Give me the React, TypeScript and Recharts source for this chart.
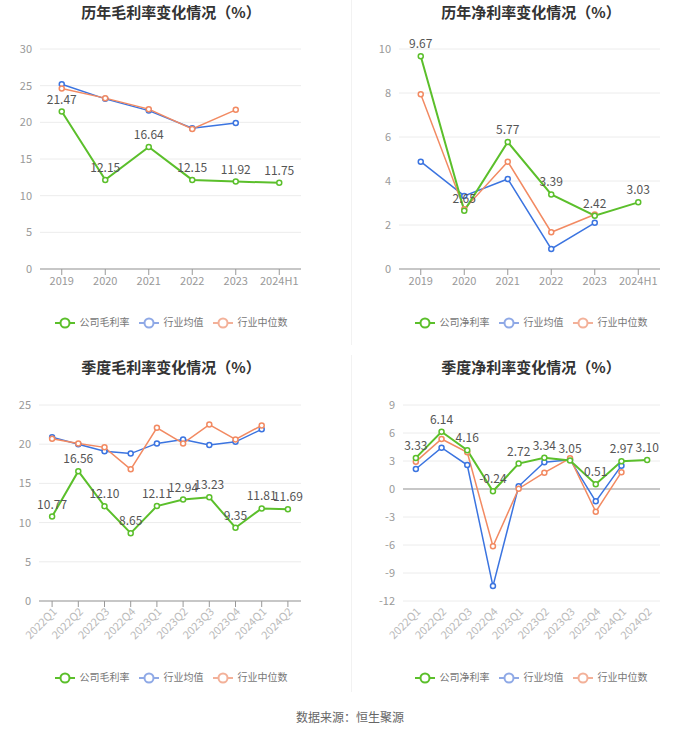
import React from "react"
import { CartesianGrid, LabelList, Line, LineChart, ReferenceLine, XAxis, YAxis } from "recharts"

const years = ["2019", "2020", "2021", "2022", "2023", "2024H1"]
const grossCompany = [21.47, 12.15, 16.64, 12.15, 11.92, 11.75]
const grossAvg = [25.2, 23.2, 21.6, 19.2, 19.9, null]
const grossMedian = [24.6, 23.3, 21.8, 19.1, 21.7, null]

const netCompany = [9.67, 2.65, 5.77, 3.39, 2.42, 3.03]
const netAvg = [4.88, 3.32, 4.09, 0.91, 2.1, null]
const netMedian = [7.94, 2.72, 4.88, 1.67, 2.48, null]

const quarters = ["2022Q1", "2022Q2", "2022Q3", "2022Q4", "2023Q1", "2023Q2", "2023Q3", "2023Q4", "2024Q1", "2024Q2"]
const qGrossCompany = [10.77, 16.56, 12.1, 8.65, 12.11, 12.94, 13.23, 9.35, 11.81, 11.69]
const qGrossAvg = [20.9, 20.0, 19.1, 18.8, 20.1, 20.6, 19.9, 20.3, 21.9, null]
const qGrossMedian = [20.7, 20.1, 19.6, 16.8, 22.1, 20.1, 22.5, 20.6, 22.4, null]

const qNetCompany = [3.33, 6.14, 4.16, -0.24, 2.72, 3.34, 3.05, 0.51, 2.97, 3.1]
const qNetAvg = [2.14, 4.43, 2.57, -10.4, 0.29, 2.86, 3.14, -1.32, 2.5, null]
const qNetMedian = [2.93, 5.36, 3.93, -6.14, 0.03, 1.75, 3.29, -2.43, 1.8, null]

const GREEN = "#5bbf2b"
const BLUE = "#3b74e0"
const ORANGE = "#f28a62"
const FONT = '"Noto Sans CJK SC", "Noto Sans", sans-serif'

type PanelProps = {
    left: number
    top: number
    title: string
    companyName: string
    categories: string[]
    company: number[]
    avg: (number | null)[]
    median: (number | null)[]
    ticks: number[]
    plotLeft: number
    plotRight: number
    quarterly?: boolean
    legendCenter: number
}

function LegendIcon({ color }: { color: string }) {
    return (
        <svg width={20} height={12} style={{ verticalAlign: "middle" }}>
            <line x1={0} y1={6} x2={20} y2={6} stroke={color} strokeWidth={2} />
            <circle cx={10} cy={6} r={4.5} fill="#fff" stroke={color} strokeWidth={2} />
        </svg>
    )
}

function Panel(p: PanelProps) {
    const data = p.categories.map((c, i) => ({
        name: c,
        company: p.company[i],
        avg: p.avg[i],
        median: p.median[i],
    }))
    const dot = (color: string) => ({ r: 2.5, fill: "#fff", stroke: color, strokeWidth: 1.5 })
    const chartTop = p.quarterly ? 35 : 30
    const marginTop = p.quarterly ? 15 : 19
    const xHeight = p.quarterly ? 50 : 25
    const marginBottom = p.quarterly ? 9 : 6
    const halfBand = (p.plotRight - p.plotLeft) / p.categories.length / 2
    const negative = p.ticks[0] < 0
    return (
        <div style={{ position: "absolute", left: p.left, top: p.top, width: 350, height: 345 }}>
            <div style={{ position: "absolute", left: 0, top: 0, width: p.legendCenter * 2, height: 24, lineHeight: "24px", textAlign: "center", fontSize: 15, fontWeight: "bold", color: "#333" }}>
                {p.title}
            </div>
            <div style={{ position: "absolute", left: 0, top: chartTop }}>
                <LineChart width={350} height={270} data={data} margin={{ top: marginTop, right: 350 - p.plotRight, bottom: marginBottom, left: 0 }}>
                    <CartesianGrid vertical={false} stroke="#ececec" />
                    <XAxis
                        dataKey="name"
                        interval={0}
                        height={xHeight}
                        padding={{ left: halfBand, right: halfBand }}
                        axisLine={negative ? false : { stroke: "#999" }}
                        tickLine={negative ? false : { stroke: "#999" }}
                        tick={p.quarterly
                            ? { fontSize: 11, fill: "#bbb", angle: -45, textAnchor: "end", dy: -2 } as any
                            : { fontSize: 11, fill: "#999" }}
                    />
                    <YAxis
                        width={p.plotLeft}
                        domain={[p.ticks[0], p.ticks[p.ticks.length - 1]]}
                        ticks={p.ticks}
                        interval={0}
                        axisLine={false}
                        tickLine={false}
                        tick={{ fontSize: 11, fill: "#999" }}
                    />
                    {negative && <ReferenceLine y={0} stroke="#999" />}
                    <Line dataKey="avg" stroke={BLUE} strokeWidth={1.5} dot={dot(BLUE)} activeDot={false} isAnimationActive={false} />
                    <Line dataKey="median" stroke={ORANGE} strokeWidth={1.5} dot={dot(ORANGE)} activeDot={false} isAnimationActive={false} />
                    <Line dataKey="company" stroke={GREEN} strokeWidth={2} dot={dot(GREEN)} activeDot={false} isAnimationActive={false}>
                        <LabelList dataKey="company" position="top" offset={8} fontSize={12} fill="#555" formatter={(v: any) => Number(v).toFixed(2)} />
                    </Line>
                </LineChart>
            </div>
            <div style={{ position: "absolute", left: p.legendCenter - 120, top: 314, width: 240, height: 16, textAlign: "center", fontSize: 10, color: "#777", whiteSpace: "nowrap", lineHeight: "16px" }}>
                <LegendIcon color={GREEN} />
                <span style={{ margin: "0 9px 0 5px" }}>{p.companyName}</span>
                <LegendIcon color="#8fa9e6" />
                <span style={{ margin: "0 9px 0 5px" }}>行业均值</span>
                <LegendIcon color="#f3b199" />
                <span style={{ marginLeft: 5 }}>行业中位数</span>
            </div>
        </div>
    )
}

export default function App() {
    return (
        <div style={{ position: "absolute", left: 0, top: 0, width: 700, height: 734, background: "#fff", fontFamily: FONT }}>
            <div style={{ position: "absolute", left: 351, top: 0, width: 1, height: 345, background: "#f2f2f2" }} />
            <div style={{ position: "absolute", left: 351, top: 355, width: 1, height: 337, background: "#f2f2f2" }} />
            <Panel left={0} top={0} title="历年毛利率变化情况（%）" companyName="公司毛利率" categories={years}
                company={grossCompany} avg={grossAvg} median={grossMedian} ticks={[0, 5, 10, 15, 20, 25, 30]}
                plotLeft={40} plotRight={301} legendCenter={171} />
            <Panel left={350} top={0} title="历年净利率变化情况（%）" companyName="公司净利率" categories={years}
                company={netCompany} avg={netAvg} median={netMedian} ticks={[0, 2, 4, 6, 8, 10]}
                plotLeft={49} plotRight={310} legendCenter={181} />
            <Panel left={0} top={355} title="季度毛利率变化情况（%）" companyName="公司毛利率" categories={quarters}
                company={qGrossCompany} avg={qGrossAvg} median={qGrossMedian} ticks={[0, 5, 10, 15, 20, 25]}
                plotLeft={39} plotRight={301} quarterly legendCenter={171} />
            <Panel left={350} top={355} title="季度净利率变化情况（%）" companyName="公司净利率" categories={quarters}
                company={qNetCompany} avg={qNetAvg} median={qNetMedian} ticks={[-12, -9, -6, -3, 0, 3, 6, 9]}
                plotLeft={53} plotRight={310} quarterly legendCenter={181} />
            <div style={{ position: "absolute", left: 0, top: 708, width: 700, textAlign: "center", fontSize: 12, color: "#666" }}>
                数据来源：恒生聚源
            </div>
        </div>
    )
}
